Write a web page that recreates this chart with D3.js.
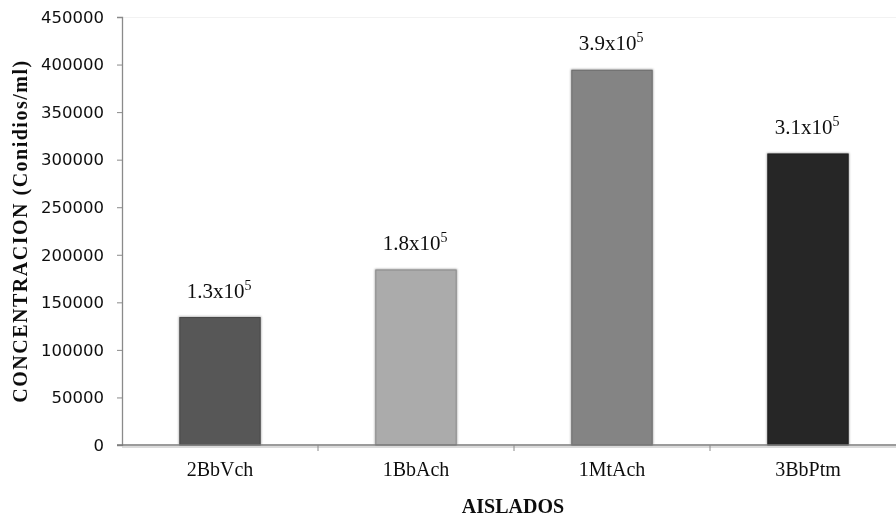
<!DOCTYPE html>
<html>
<head>
<meta charset="utf-8">
<script src="https://cdn.jsdelivr.net/npm/d3@7"></script>
<style>
  html, body { margin: 0; padding: 0; background: #fff; }
  svg { display: block; }
</style>
</head>
<body>
<svg id="chart" width="896" height="519"></svg>
<script>
// Conidia concentration per isolate
const categories = ["2BbVch", "1BbAch", "1MtAch", "3BbPtm"];
const values = [134000, 184000, 394000, 306000];
const barColors = ["#575757", "#ababab", "#848484", "#262626"];
const yTicks = [0, 50000, 100000, 150000, 200000, 250000, 300000, 350000, 400000, 450000];

const svg = d3.select("#chart");
const plotLeft = 122, plotRight = 906, plotTop = 17, plotBottom = 445;
const serif = "Liberation Serif, Times New Roman, serif";

const x = d3.scaleBand().domain(categories).range([plotLeft, plotRight])
  .paddingInner(0.59).paddingOuter(0.295);
const xCat = d3.scaleBand().domain(categories).range([plotLeft, plotRight]).padding(0);
const y = d3.scaleLinear().domain([0, 450000]).range([plotBottom, plotTop]);

const defs = svg.append("defs");
defs.append("filter").attr("id", "soft").attr("x", "-20%").attr("y", "-20%")
  .attr("width", "140%").attr("height", "140%")
  .append("feGaussianBlur").attr("stdDeviation", 1.2);
defs.append("filter").attr("id", "textsoft")
  .append("feGaussianBlur").attr("stdDeviation", 0.35);

// faint plot frame top
svg.append("line").attr("x1", plotLeft).attr("x2", 896).attr("y1", plotTop + 0.5).attr("y2", plotTop + 0.5)
  .attr("stroke", "#f2f2f2");

// Bars with a soft shadow
const bars = svg.append("g");
categories.forEach((c, i) => {
  const bx = x(c), bw = x.bandwidth(), by = y(values[i]), bh = plotBottom - y(values[i]);
  bars.append("rect").attr("x", bx - 1).attr("y", by - 1).attr("width", bw + 2).attr("height", bh + 1)
    .attr("fill", "#000").attr("opacity", 0.35).attr("filter", "url(#soft)");
  bars.append("rect").attr("x", bx).attr("y", by).attr("width", bw).attr("height", bh)
    .attr("fill", barColors[i])
    .attr("stroke", d3.color(barColors[i]).darker(0.6)).attr("stroke-width", 1);
});

// Y axis
const yAxis = svg.append("g").attr("transform", `translate(${plotLeft},0)`)
  .call(d3.axisLeft(y).tickValues(yTicks).tickSize(5).tickPadding(13).tickFormat(d3.format("d")));
yAxis.select(".domain").attr("stroke", "#8a8a8a").attr("stroke-width", 1.3);
yAxis.selectAll(".tick line").attr("stroke", "#8a8a8a");
yAxis.selectAll("text").attr("font-family", "DejaVu Sans, sans-serif").attr("font-size", 16.5)
  .attr("fill", "#111").attr("filter", "url(#textsoft)");

// X axis (category boundaries as ticks)
const xAxis = svg.append("g").attr("transform", `translate(0,${plotBottom})`);
xAxis.append("line").attr("x1", plotLeft - 5).attr("x2", 896).attr("y1", 0).attr("y2", 0)
  .attr("stroke", "#7a7a7a").attr("stroke-width", 1.6);
xAxis.append("line").attr("x1", plotLeft).attr("x2", 896).attr("y1", 2).attr("y2", 2)
  .attr("stroke", "#cfcfcf").attr("stroke-width", 1.5);
xAxis.selectAll("line.sep").data(categories.slice(1)).join("line").attr("class", "sep")
  .attr("x1", d => xCat(d)).attr("x2", d => xCat(d)).attr("y1", 0).attr("y2", 6)
  .attr("stroke", "#8a8a8a");
xAxis.selectAll("text.cat").data(categories).join("text").attr("class", "cat")
  .attr("x", d => x(d) + x.bandwidth() / 2).attr("y", 31)
  .attr("text-anchor", "middle").attr("font-family", serif)
  .attr("font-size", 20).attr("fill", "#111").attr("filter", "url(#textsoft)").text(d => d);

// Value labels: mantissa x 10^5
const labels = svg.append("g");
categories.forEach((c, i) => {
  const t = labels.append("text")
    .attr("x", x(c) + x.bandwidth() / 2 - 1).attr("y", y(values[i]) - 20)
    .attr("text-anchor", "middle").attr("font-family", serif)
    .attr("font-size", 21).attr("fill", "#111").attr("filter", "url(#textsoft)");
  t.append("tspan").text((values[i] / 1e5).toFixed(1) + "x10");
  t.append("tspan").attr("dy", -8).attr("font-size", 14).text("5");
});

// Axis titles
svg.append("text").attr("x", (plotLeft + plotRight) / 2 - 1).attr("y", 513)
  .attr("text-anchor", "middle").attr("font-family", serif)
  .attr("font-weight", "bold").attr("font-size", 20).attr("fill", "#111")
  .attr("filter", "url(#textsoft)").text("AISLADOS");
svg.append("text").attr("transform", `translate(27,231) rotate(-90)`)
  .attr("text-anchor", "middle").attr("font-family", serif)
  .attr("font-weight", "bold").attr("font-size", 20).attr("letter-spacing", 1.5).attr("fill", "#111")
  .attr("filter", "url(#textsoft)")
  .text("CONCENTRACION  (Conidios/ml)");
</script>
</body>
</html>
